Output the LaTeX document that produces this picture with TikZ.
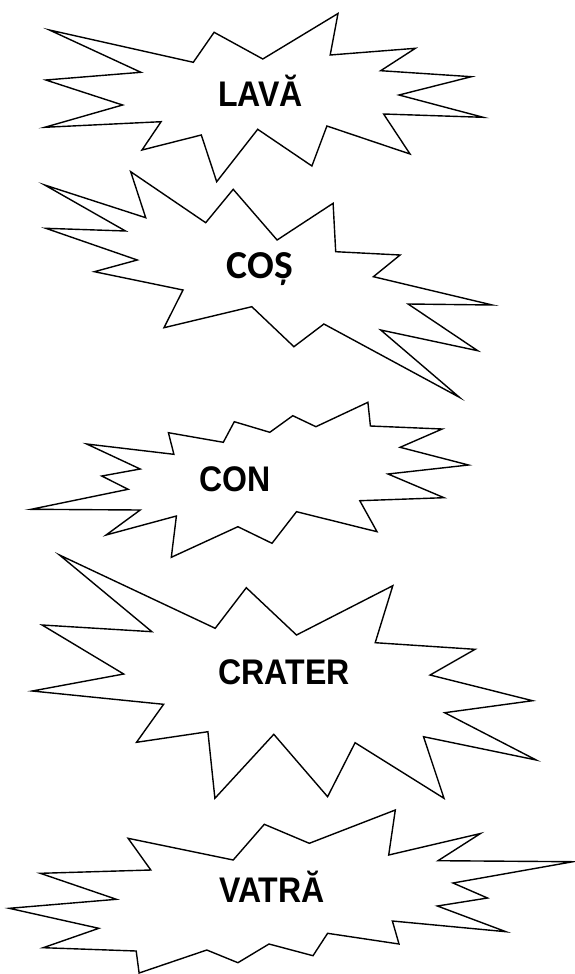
\documentclass[tikz,border=0pt]{standalone}
\usepackage{fontspec}
\setmainfont{Liberation Sans}[FakeStretch=0.9]
\newfontfamily\cosFont{Carlito}
\usepackage{tikz}
\tikzset{
  burst/.style={draw=black, fill=white, line width=1.4pt, line join=miter, miter limit=12},
  burstText/.style={font=\fontsize{35.6}{40}\selectfont\bfseries, inner sep=0pt, anchor=base},
  burstTextCos/.style={font=\cosFont\fontsize{39.6}{44}\selectfont\bfseries, inner sep=0pt, anchor=base}
}

\begin{document}
\begin{tikzpicture}[x=1pt, y=-1pt]
  \useasboundingbox (0,0) rectangle (574,974);

  % LAVA
  \draw[burst] (49.4,30) -- (140.9,72.3) -- (45.8,80) -- (122.6,105) -- (44.7,127.3)
    -- (161.1,121.7) -- (142,150) -- (201.3,135) -- (216.7,181.7) -- (257.7,129.3)
    -- (311.9,166) -- (326.9,126) -- (410,154) -- (383.6,114) -- (483.2,117.3)
    -- (399,95) -- (471.4,76.7) -- (380.7,70.7) -- (415.4,48.3) -- (330.2,55)
    -- (338,13.5) -- (262.8,59) -- (214.1,32.3) -- (193.3,62.3) -- cycle;
  \node[burstText] (lava) at (260.6,106.7) {LAVĂ};

  % COS
  \draw[burst] (44.7,185) -- (145.7,217.7) -- (130.7,171.7) -- (205.7,222.7) -- (233.2,189.3)
    -- (277.1,240) -- (333.1,203.3) -- (335.7,251.7) -- (400.1,255) -- (373.4,276.7)
    -- (492.3,305) -- (408.1,304) -- (477.7,350.7) -- (380.7,330) -- (459.4,397.3)
    -- (323.9,324) -- (293.9,346.7) -- (251.8,306.7) -- (164,327.7) -- (183,290)
    -- (94.4,271.7) -- (137.3,260) -- (45.8,228.3) -- (125.5,231) -- cycle;
  \node[burstTextCos] (cos) at (259.9,278.3) {COȘ};

  % CON
  \draw[burst] (86.7,444) -- (173.9,454.3) -- (168.4,432.7) -- (223.3,442.3) -- (234.3,421.7)
    -- (269.8,432.3) -- (292.8,415.7) -- (315.9,426.7) -- (367.9,402.3) -- (370.4,426)
    -- (442.2,429) -- (400.1,447.3) -- (468.5,465) -- (388,474) -- (444,497.7)
    -- (359.8,500.7) -- (377,531.7) -- (296.5,511.7) -- (272,543.3) -- (237.9,526.7)
    -- (171.3,557.3) -- (176.4,516) -- (106.1,535) -- (140.2,510) -- (31.1,509.3)
    -- (128.1,489.3) -- (101.8,476) -- (140.2,469) -- cycle;
  \node[burstText] (con) at (234.8,491.7) {CON};

  % CRATER
  \draw[burst] (59.5,555) -- (151.9,631.7) -- (42.1,625) -- (123.7,674) -- (32.2,691)
    -- (163.6,704.3) -- (136.5,742.3) -- (207.9,731.7) -- (214.9,798.3) -- (273.8,734.3)
    -- (327.6,796.7) -- (355.1,742.7) -- (444,798.3) -- (423.5,736.7) -- (536.2,760)
    -- (444.7,712.7) -- (532.6,700.7) -- (430.1,675) -- (475.1,649.3) -- (375.2,642.7)
    -- (392.8,585.7) -- (296.5,635) -- (246.3,587.7) -- (215.2,628.3) -- cycle;
  \node[burstText] (crater) at (284.2,684) {CRATER};

  % VATRA
  \draw[burst] (128.1,838.3) -- (233.2,860) -- (264.3,824.3) -- (309.3,843.3) -- (395.3,810)
    -- (388.7,855) -- (480.5,833.5) -- (438,860.7) -- (573,861.7) -- (453,883)
    -- (487.5,898) -- (437.4,906) -- (505.9,931.7) -- (392.4,921) -- (399,944)
    -- (327.6,933.3) -- (313,955.7) -- (269,944) -- (237.9,962.7) -- (206.8,950)
    -- (139.1,973) -- (136.2,951) -- (43.2,947.7) -- (98.8,928.3) -- (9.2,908.3)
    -- (116.4,899.3) -- (40.3,873.3) -- (150.8,870) -- cycle;
  \node[burstText] (vatra) at (271.8,902.7) {VATRĂ};
\end{tikzpicture}
\end{document}
